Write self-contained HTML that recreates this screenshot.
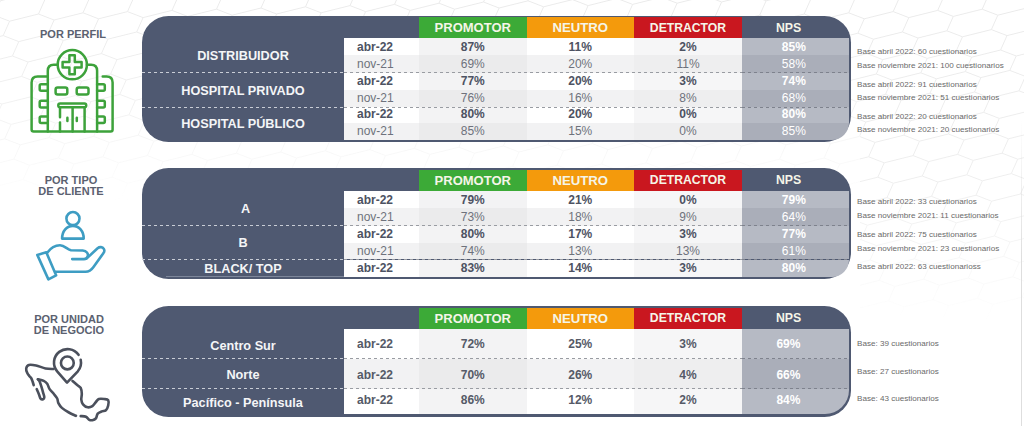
<!DOCTYPE html>
<html><head><meta charset="utf-8">
<style>
*{margin:0;padding:0;box-sizing:border-box}
html,body{width:1024px;height:426px;overflow:hidden;background:#fff;font-family:"Liberation Sans",sans-serif}
#wrap{position:relative;width:1024px;height:426px}
.tb{position:absolute;background:#4f5971;border-radius:26.5px}
.hc{position:absolute;color:#f5f5e8;font-weight:bold;font-size:13px;text-align:center}
.bc{position:absolute}
.tx{position:absolute;font-size:12px;line-height:12px;white-space:nowrap}
.c{text-align:center}
.b{font-weight:bold;color:#4d5262}
.r{font-weight:normal;color:#6e727c}
.m{font-weight:bold;color:#555a67}
.w{color:#fff}
.gl{position:absolute;color:#f4f5f7;font-weight:bold;font-size:12.7px;text-align:center;white-space:nowrap}
.dd{position:absolute;height:1px;background:repeating-linear-gradient(90deg,#c9cdd6 0 3px,transparent 3px 6px)}
.dg{position:absolute;height:1px;background:repeating-linear-gradient(90deg,#999ca2 0 3px,transparent 3px 6px)}
.dn{position:absolute;height:1px;background:repeating-linear-gradient(90deg,#7e828d 0 3px,transparent 3px 6px)}
.nt{position:absolute;left:857px;font-size:8.1px;line-height:8.1px;color:#6a6a6a;white-space:nowrap}
.ttl{position:absolute;color:#5b6170;font-weight:bold;font-size:11px;text-align:center;line-height:11.5px}
</style></head><body><div id="wrap">
<svg style="position:absolute;left:0;top:0" width="1024" height="426" viewBox="0 0 1024 426"><defs><linearGradient id="hf1" gradientUnits="userSpaceOnUse" x1="0" y1="0" x2="0" y2="200"><stop offset="0" stop-color="#fff" stop-opacity="1"/><stop offset="0.5" stop-color="#fff" stop-opacity="0.7"/><stop offset="1" stop-color="#fff" stop-opacity="0"/></linearGradient><linearGradient id="hf2" gradientUnits="userSpaceOnUse" x1="0" y1="0" x2="0" y2="320"><stop offset="0" stop-color="#fff" stop-opacity="1"/><stop offset="0.6" stop-color="#fff" stop-opacity="0.8"/><stop offset="1" stop-color="#fff" stop-opacity="0"/></linearGradient><mask id="hm"><rect x="0" y="0" width="860" height="426" fill="url(#hf1)"/><rect x="860" y="0" width="164" height="426" fill="url(#hf2)"/></mask></defs><path d="M-64.4,285.2L-58.0,270.8L-29.1,263.6L-13.5,269.6M-55.2,305.6L-48.8,291.2L-19.9,284.0L-4.3,290.0M-46.0,326.0L-39.6,311.6L-10.7,304.4L4.9,310.4M-36.8,346.4L-30.4,332.0L-1.5,324.8L14.1,330.8M-65.9,182.0L-59.5,167.6L-30.6,160.4L-15.0,166.4M-56.7,202.4L-50.3,188.0L-21.4,180.8L-5.8,186.8M-47.5,222.8L-41.1,208.4L-12.2,201.2L3.4,207.2M-38.3,243.2L-31.9,228.8L-3.0,221.6L12.6,227.6M-29.1,263.6L-22.7,249.2L6.2,242.0L21.8,248.0M-19.9,284.0L-13.5,269.6L15.4,262.4L31.0,268.4M-10.7,304.4L-4.3,290.0L24.6,282.8L40.2,288.8M-1.5,324.8L4.9,310.4L33.8,303.2L49.4,309.2M7.7,345.2L14.1,330.8L43.0,323.6L58.6,329.6M-58.2,99.2L-51.8,84.8L-22.9,77.6L-7.3,83.6M-49.0,119.6L-42.6,105.2L-13.7,98.0L1.9,104.0M-39.8,140.0L-33.4,125.6L-4.5,118.4L11.1,124.4M-30.6,160.4L-24.2,146.0L4.7,138.8L20.3,144.8M-21.4,180.8L-15.0,166.4L13.9,159.2L29.5,165.2M-12.2,201.2L-5.8,186.8L23.1,179.6L38.7,185.6M-3.0,221.6L3.4,207.2L32.3,200.0L47.9,206.0M6.2,242.0L12.6,227.6L41.5,220.4L57.1,226.4M15.4,262.4L21.8,248.0L50.7,240.8L66.3,246.8M24.6,282.8L31.0,268.4L59.9,261.2L75.5,267.2M33.8,303.2L40.2,288.8L69.1,281.6L84.7,287.6M43.0,323.6L49.4,309.2L78.3,302.0L93.9,308.0M52.2,344.0L58.6,329.6L87.5,322.4L103.1,328.4M-59.7,-4.0L-53.3,-18.4L-24.4,-25.6L-8.8,-19.6M-50.5,16.4L-44.1,2.0L-15.2,-5.2L0.4,0.8M-41.3,36.8L-34.9,22.4L-6.0,15.2L9.6,21.2M-32.1,57.2L-25.7,42.8L3.2,35.6L18.8,41.6M-22.9,77.6L-16.5,63.2L12.4,56.0L28.0,62.0M-13.7,98.0L-7.3,83.6L21.6,76.4L37.2,82.4M-4.5,118.4L1.9,104.0L30.8,96.8L46.4,102.8M4.7,138.8L11.1,124.4L40.0,117.2L55.6,123.2M13.9,159.2L20.3,144.8L49.2,137.6L64.8,143.6M23.1,179.6L29.5,165.2L58.4,158.0L74.0,164.0M32.3,200.0L38.7,185.6L67.6,178.4L83.2,184.4M41.5,220.4L47.9,206.0L76.8,198.8L92.4,204.8M50.7,240.8L57.1,226.4L86.0,219.2L101.6,225.2M59.9,261.2L66.3,246.8L95.2,239.6L110.8,245.6M69.1,281.6L75.5,267.2L104.4,260.0L120.0,266.0M78.3,302.0L84.7,287.6L113.6,280.4L129.2,286.4M87.5,322.4L93.9,308.0L122.8,300.8L138.4,306.8M96.7,342.8L103.1,328.4L132.0,321.2L147.6,327.2M-15.2,-5.2L-8.8,-19.6L20.1,-26.8L35.7,-20.8M-6.0,15.2L0.4,0.8L29.3,-6.4L44.9,-0.4M3.2,35.6L9.6,21.2L38.5,14.0L54.1,20.0M12.4,56.0L18.8,41.6L47.7,34.4L63.3,40.4M21.6,76.4L28.0,62.0L56.9,54.8L72.5,60.8M30.8,96.8L37.2,82.4L66.1,75.2L81.7,81.2M40.0,117.2L46.4,102.8L75.3,95.6L90.9,101.6M49.2,137.6L55.6,123.2L84.5,116.0L100.1,122.0M58.4,158.0L64.8,143.6L93.7,136.4L109.3,142.4M67.6,178.4L74.0,164.0L102.9,156.8L118.5,162.8M76.8,198.8L83.2,184.4L112.1,177.2L127.7,183.2M86.0,219.2L92.4,204.8L121.3,197.6L136.9,203.6M95.2,239.6L101.6,225.2L130.5,218.0L146.1,224.0M104.4,260.0L110.8,245.6L139.7,238.4L155.3,244.4M113.6,280.4L120.0,266.0L148.9,258.8L164.5,264.8M122.8,300.8L129.2,286.4L158.1,279.2L173.7,285.2M132.0,321.2L138.4,306.8L167.3,299.6L182.9,305.6M141.2,341.6L147.6,327.2L176.5,320.0L192.1,326.0M29.3,-6.4L35.7,-20.8L64.6,-28.0L80.2,-22.0M38.5,14.0L44.9,-0.4L73.8,-7.6L89.4,-1.6M47.7,34.4L54.1,20.0L83.0,12.8L98.6,18.8M56.9,54.8L63.3,40.4L92.2,33.2L107.8,39.2M66.1,75.2L72.5,60.8L101.4,53.6L117.0,59.6M75.3,95.6L81.7,81.2L110.6,74.0L126.2,80.0M84.5,116.0L90.9,101.6L119.8,94.4L135.4,100.4M93.7,136.4L100.1,122.0L129.0,114.8L144.6,120.8M102.9,156.8L109.3,142.4L138.2,135.2L153.8,141.2M112.1,177.2L118.5,162.8L147.4,155.6L163.0,161.6M121.3,197.6L127.7,183.2L156.6,176.0L172.2,182.0M130.5,218.0L136.9,203.6L165.8,196.4L181.4,202.4M139.7,238.4L146.1,224.0L175.0,216.8L190.6,222.8M148.9,258.8L155.3,244.4L184.2,237.2L199.8,243.2M158.1,279.2L164.5,264.8L193.4,257.6L209.0,263.6M167.3,299.6L173.7,285.2L202.6,278.0L218.2,284.0M176.5,320.0L182.9,305.6L211.8,298.4L227.4,304.4M185.7,340.4L192.1,326.0L221.0,318.8L236.6,324.8M194.9,360.8L201.3,346.4L230.2,339.2L245.8,345.2M73.8,-7.6L80.2,-22.0L109.1,-29.2L124.7,-23.2M83.0,12.8L89.4,-1.6L118.3,-8.8L133.9,-2.8M92.2,33.2L98.6,18.8L127.5,11.6L143.1,17.6M101.4,53.6L107.8,39.2L136.7,32.0L152.3,38.0M110.6,74.0L117.0,59.6L145.9,52.4L161.5,58.4M119.8,94.4L126.2,80.0L155.1,72.8L170.7,78.8M129.0,114.8L135.4,100.4L164.3,93.2L179.9,99.2M138.2,135.2L144.6,120.8L173.5,113.6L189.1,119.6M147.4,155.6L153.8,141.2L182.7,134.0L198.3,140.0M156.6,176.0L163.0,161.6L191.9,154.4L207.5,160.4M165.8,196.4L172.2,182.0L201.1,174.8L216.7,180.8M175.0,216.8L181.4,202.4L210.3,195.2L225.9,201.2M184.2,237.2L190.6,222.8L219.5,215.6L235.1,221.6M193.4,257.6L199.8,243.2L228.7,236.0L244.3,242.0M202.6,278.0L209.0,263.6L237.9,256.4L253.5,262.4M211.8,298.4L218.2,284.0L247.1,276.8L262.7,282.8M221.0,318.8L227.4,304.4L256.3,297.2L271.9,303.2M230.2,339.2L236.6,324.8L265.5,317.6L281.1,323.6M239.4,359.6L245.8,345.2L274.7,338.0L290.3,344.0M118.3,-8.8L124.7,-23.2L153.6,-30.4L169.2,-24.4M127.5,11.6L133.9,-2.8L162.8,-10.0L178.4,-4.0M136.7,32.0L143.1,17.6L172.0,10.4L187.6,16.4M145.9,52.4L152.3,38.0L181.2,30.8L196.8,36.8M155.1,72.8L161.5,58.4L190.4,51.2L206.0,57.2M164.3,93.2L170.7,78.8L199.6,71.6L215.2,77.6M173.5,113.6L179.9,99.2L208.8,92.0L224.4,98.0M182.7,134.0L189.1,119.6L218.0,112.4L233.6,118.4M191.9,154.4L198.3,140.0L227.2,132.8L242.8,138.8M201.1,174.8L207.5,160.4L236.4,153.2L252.0,159.2M210.3,195.2L216.7,180.8L245.6,173.6L261.2,179.6M219.5,215.6L225.9,201.2L254.8,194.0L270.4,200.0M228.7,236.0L235.1,221.6L264.0,214.4L279.6,220.4M237.9,256.4L244.3,242.0L273.2,234.8L288.8,240.8M247.1,276.8L253.5,262.4L282.4,255.2L298.0,261.2M256.3,297.2L262.7,282.8L291.6,275.6L307.2,281.6M265.5,317.6L271.9,303.2L300.8,296.0L316.4,302.0M274.7,338.0L281.1,323.6L310.0,316.4L325.6,322.4M283.9,358.4L290.3,344.0L319.2,336.8L334.8,342.8M162.8,-10.0L169.2,-24.4L198.1,-31.6L213.7,-25.6M172.0,10.4L178.4,-4.0L207.3,-11.2L222.9,-5.2M181.2,30.8L187.6,16.4L216.5,9.2L232.1,15.2M190.4,51.2L196.8,36.8L225.7,29.6L241.3,35.6M199.6,71.6L206.0,57.2L234.9,50.0L250.5,56.0M208.8,92.0L215.2,77.6L244.1,70.4L259.7,76.4M218.0,112.4L224.4,98.0L253.3,90.8L268.9,96.8M227.2,132.8L233.6,118.4L262.5,111.2L278.1,117.2M236.4,153.2L242.8,138.8L271.7,131.6L287.3,137.6M245.6,173.6L252.0,159.2L280.9,152.0L296.5,158.0M254.8,194.0L261.2,179.6L290.1,172.4L305.7,178.4M264.0,214.4L270.4,200.0L299.3,192.8L314.9,198.8M273.2,234.8L279.6,220.4L308.5,213.2L324.1,219.2M282.4,255.2L288.8,240.8L317.7,233.6L333.3,239.6M291.6,275.6L298.0,261.2L326.9,254.0L342.5,260.0M300.8,296.0L307.2,281.6L336.1,274.4L351.7,280.4M310.0,316.4L316.4,302.0L345.3,294.8L360.9,300.8M319.2,336.8L325.6,322.4L354.5,315.2L370.1,321.2M328.4,357.2L334.8,342.8L363.7,335.6L379.3,341.6M207.3,-11.2L213.7,-25.6L242.6,-32.8L258.2,-26.8M216.5,9.2L222.9,-5.2L251.8,-12.4L267.4,-6.4M225.7,29.6L232.1,15.2L261.0,8.0L276.6,14.0M234.9,50.0L241.3,35.6L270.2,28.4L285.8,34.4M244.1,70.4L250.5,56.0L279.4,48.8L295.0,54.8M253.3,90.8L259.7,76.4L288.6,69.2L304.2,75.2M262.5,111.2L268.9,96.8L297.8,89.6L313.4,95.6M271.7,131.6L278.1,117.2L307.0,110.0L322.6,116.0M280.9,152.0L287.3,137.6L316.2,130.4L331.8,136.4M290.1,172.4L296.5,158.0L325.4,150.8L341.0,156.8M299.3,192.8L305.7,178.4L334.6,171.2L350.2,177.2M308.5,213.2L314.9,198.8L343.8,191.6L359.4,197.6M317.7,233.6L324.1,219.2L353.0,212.0L368.6,218.0M326.9,254.0L333.3,239.6L362.2,232.4L377.8,238.4M336.1,274.4L342.5,260.0L371.4,252.8L387.0,258.8M345.3,294.8L351.7,280.4L380.6,273.2L396.2,279.2M354.5,315.2L360.9,300.8L389.8,293.6L405.4,299.6M363.7,335.6L370.1,321.2L399.0,314.0L414.6,320.0M372.9,356.0L379.3,341.6L408.2,334.4L423.8,340.4M251.8,-12.4L258.2,-26.8L287.1,-34.0L302.7,-28.0M261.0,8.0L267.4,-6.4L296.3,-13.6L311.9,-7.6M270.2,28.4L276.6,14.0L305.5,6.8L321.1,12.8M279.4,48.8L285.8,34.4L314.7,27.2L330.3,33.2M288.6,69.2L295.0,54.8L323.9,47.6L339.5,53.6M297.8,89.6L304.2,75.2L333.1,68.0L348.7,74.0M307.0,110.0L313.4,95.6L342.3,88.4L357.9,94.4M316.2,130.4L322.6,116.0L351.5,108.8L367.1,114.8M325.4,150.8L331.8,136.4L360.7,129.2L376.3,135.2M334.6,171.2L341.0,156.8L369.9,149.6L385.5,155.6M343.8,191.6L350.2,177.2L379.1,170.0L394.7,176.0M353.0,212.0L359.4,197.6L388.3,190.4L403.9,196.4M362.2,232.4L368.6,218.0L397.5,210.8L413.1,216.8M371.4,252.8L377.8,238.4L406.7,231.2L422.3,237.2M380.6,273.2L387.0,258.8L415.9,251.6L431.5,257.6M389.8,293.6L396.2,279.2L425.1,272.0L440.7,278.0M399.0,314.0L405.4,299.6L434.3,292.4L449.9,298.4M408.2,334.4L414.6,320.0L443.5,312.8L459.1,318.8M417.4,354.8L423.8,340.4L452.7,333.2L468.3,339.2M296.3,-13.6L302.7,-28.0L331.6,-35.2L347.2,-29.2M305.5,6.8L311.9,-7.6L340.8,-14.8L356.4,-8.8M314.7,27.2L321.1,12.8L350.0,5.6L365.6,11.6M323.9,47.6L330.3,33.2L359.2,26.0L374.8,32.0M333.1,68.0L339.5,53.6L368.4,46.4L384.0,52.4M342.3,88.4L348.7,74.0L377.6,66.8L393.2,72.8M351.5,108.8L357.9,94.4L386.8,87.2L402.4,93.2M360.7,129.2L367.1,114.8L396.0,107.6L411.6,113.6M369.9,149.6L376.3,135.2L405.2,128.0L420.8,134.0M379.1,170.0L385.5,155.6L414.4,148.4L430.0,154.4M388.3,190.4L394.7,176.0L423.6,168.8L439.2,174.8M397.5,210.8L403.9,196.4L432.8,189.2L448.4,195.2M406.7,231.2L413.1,216.8L442.0,209.6L457.6,215.6M415.9,251.6L422.3,237.2L451.2,230.0L466.8,236.0M425.1,272.0L431.5,257.6L460.4,250.4L476.0,256.4M434.3,292.4L440.7,278.0L469.6,270.8L485.2,276.8M443.5,312.8L449.9,298.4L478.8,291.2L494.4,297.2M452.7,333.2L459.1,318.8L488.0,311.6L503.6,317.6M461.9,353.6L468.3,339.2L497.2,332.0L512.8,338.0M340.8,-14.8L347.2,-29.2L376.1,-36.4L391.7,-30.4M350.0,5.6L356.4,-8.8L385.3,-16.0L400.9,-10.0M359.2,26.0L365.6,11.6L394.5,4.4L410.1,10.4M368.4,46.4L374.8,32.0L403.7,24.8L419.3,30.8M377.6,66.8L384.0,52.4L412.9,45.2L428.5,51.2M386.8,87.2L393.2,72.8L422.1,65.6L437.7,71.6M396.0,107.6L402.4,93.2L431.3,86.0L446.9,92.0M405.2,128.0L411.6,113.6L440.5,106.4L456.1,112.4M414.4,148.4L420.8,134.0L449.7,126.8L465.3,132.8M423.6,168.8L430.0,154.4L458.9,147.2L474.5,153.2M432.8,189.2L439.2,174.8L468.1,167.6L483.7,173.6M442.0,209.6L448.4,195.2L477.3,188.0L492.9,194.0M451.2,230.0L457.6,215.6L486.5,208.4L502.1,214.4M460.4,250.4L466.8,236.0L495.7,228.8L511.3,234.8M469.6,270.8L476.0,256.4L504.9,249.2L520.5,255.2M478.8,291.2L485.2,276.8L514.1,269.6L529.7,275.6M488.0,311.6L494.4,297.2L523.3,290.0L538.9,296.0M497.2,332.0L503.6,317.6L532.5,310.4L548.1,316.4M506.4,352.4L512.8,338.0L541.7,330.8L557.3,336.8M385.3,-16.0L391.7,-30.4L420.6,-37.6L436.2,-31.6M394.5,4.4L400.9,-10.0L429.8,-17.2L445.4,-11.2M403.7,24.8L410.1,10.4L439.0,3.2L454.6,9.2M412.9,45.2L419.3,30.8L448.2,23.6L463.8,29.6M422.1,65.6L428.5,51.2L457.4,44.0L473.0,50.0M431.3,86.0L437.7,71.6L466.6,64.4L482.2,70.4M440.5,106.4L446.9,92.0L475.8,84.8L491.4,90.8M449.7,126.8L456.1,112.4L485.0,105.2L500.6,111.2M458.9,147.2L465.3,132.8L494.2,125.6L509.8,131.6M468.1,167.6L474.5,153.2L503.4,146.0L519.0,152.0M477.3,188.0L483.7,173.6L512.6,166.4L528.2,172.4M486.5,208.4L492.9,194.0L521.8,186.8L537.4,192.8M495.7,228.8L502.1,214.4L531.0,207.2L546.6,213.2M504.9,249.2L511.3,234.8L540.2,227.6L555.8,233.6M514.1,269.6L520.5,255.2L549.4,248.0L565.0,254.0M523.3,290.0L529.7,275.6L558.6,268.4L574.2,274.4M532.5,310.4L538.9,296.0L567.8,288.8L583.4,294.8M541.7,330.8L548.1,316.4L577.0,309.2L592.6,315.2M550.9,351.2L557.3,336.8L586.2,329.6L601.8,335.6M429.8,-17.2L436.2,-31.6L465.1,-38.8L480.7,-32.8M439.0,3.2L445.4,-11.2L474.3,-18.4L489.9,-12.4M448.2,23.6L454.6,9.2L483.5,2.0L499.1,8.0M457.4,44.0L463.8,29.6L492.7,22.4L508.3,28.4M466.6,64.4L473.0,50.0L501.9,42.8L517.5,48.8M475.8,84.8L482.2,70.4L511.1,63.2L526.7,69.2M485.0,105.2L491.4,90.8L520.3,83.6L535.9,89.6M494.2,125.6L500.6,111.2L529.5,104.0L545.1,110.0M503.4,146.0L509.8,131.6L538.7,124.4L554.3,130.4M512.6,166.4L519.0,152.0L547.9,144.8L563.5,150.8M521.8,186.8L528.2,172.4L557.1,165.2L572.7,171.2M531.0,207.2L537.4,192.8L566.3,185.6L581.9,191.6M540.2,227.6L546.6,213.2L575.5,206.0L591.1,212.0M549.4,248.0L555.8,233.6L584.7,226.4L600.3,232.4M558.6,268.4L565.0,254.0L593.9,246.8L609.5,252.8M567.8,288.8L574.2,274.4L603.1,267.2L618.7,273.2M577.0,309.2L583.4,294.8L612.3,287.6L627.9,293.6M586.2,329.6L592.6,315.2L621.5,308.0L637.1,314.0M595.4,350.0L601.8,335.6L630.7,328.4L646.3,334.4M474.3,-18.4L480.7,-32.8L509.6,-40.0L525.2,-34.0M483.5,2.0L489.9,-12.4L518.8,-19.6L534.4,-13.6M492.7,22.4L499.1,8.0L528.0,0.8L543.6,6.8M501.9,42.8L508.3,28.4L537.2,21.2L552.8,27.2M511.1,63.2L517.5,48.8L546.4,41.6L562.0,47.6M520.3,83.6L526.7,69.2L555.6,62.0L571.2,68.0M529.5,104.0L535.9,89.6L564.8,82.4L580.4,88.4M538.7,124.4L545.1,110.0L574.0,102.8L589.6,108.8M547.9,144.8L554.3,130.4L583.2,123.2L598.8,129.2M557.1,165.2L563.5,150.8L592.4,143.6L608.0,149.6M566.3,185.6L572.7,171.2L601.6,164.0L617.2,170.0M575.5,206.0L581.9,191.6L610.8,184.4L626.4,190.4M584.7,226.4L591.1,212.0L620.0,204.8L635.6,210.8M593.9,246.8L600.3,232.4L629.2,225.2L644.8,231.2M603.1,267.2L609.5,252.8L638.4,245.6L654.0,251.6M612.3,287.6L618.7,273.2L647.6,266.0L663.2,272.0M621.5,308.0L627.9,293.6L656.8,286.4L672.4,292.4M630.7,328.4L637.1,314.0L666.0,306.8L681.6,312.8M639.9,348.8L646.3,334.4L675.2,327.2L690.8,333.2M528.0,0.8L534.4,-13.6L563.3,-20.8L578.9,-14.8M537.2,21.2L543.6,6.8L572.5,-0.4L588.1,5.6M546.4,41.6L552.8,27.2L581.7,20.0L597.3,26.0M555.6,62.0L562.0,47.6L590.9,40.4L606.5,46.4M564.8,82.4L571.2,68.0L600.1,60.8L615.7,66.8M574.0,102.8L580.4,88.4L609.3,81.2L624.9,87.2M583.2,123.2L589.6,108.8L618.5,101.6L634.1,107.6M592.4,143.6L598.8,129.2L627.7,122.0L643.3,128.0M601.6,164.0L608.0,149.6L636.9,142.4L652.5,148.4M610.8,184.4L617.2,170.0L646.1,162.8L661.7,168.8M620.0,204.8L626.4,190.4L655.3,183.2L670.9,189.2M629.2,225.2L635.6,210.8L664.5,203.6L680.1,209.6M638.4,245.6L644.8,231.2L673.7,224.0L689.3,230.0M647.6,266.0L654.0,251.6L682.9,244.4L698.5,250.4M656.8,286.4L663.2,272.0L692.1,264.8L707.7,270.8M666.0,306.8L672.4,292.4L701.3,285.2L716.9,291.2M675.2,327.2L681.6,312.8L710.5,305.6L726.1,311.6M684.4,347.6L690.8,333.2L719.7,326.0L735.3,332.0M572.5,-0.4L578.9,-14.8L607.8,-22.0L623.4,-16.0M581.7,20.0L588.1,5.6L617.0,-1.6L632.6,4.4M590.9,40.4L597.3,26.0L626.2,18.8L641.8,24.8M600.1,60.8L606.5,46.4L635.4,39.2L651.0,45.2M609.3,81.2L615.7,66.8L644.6,59.6L660.2,65.6M618.5,101.6L624.9,87.2L653.8,80.0L669.4,86.0M627.7,122.0L634.1,107.6L663.0,100.4L678.6,106.4M636.9,142.4L643.3,128.0L672.2,120.8L687.8,126.8M646.1,162.8L652.5,148.4L681.4,141.2L697.0,147.2M655.3,183.2L661.7,168.8L690.6,161.6L706.2,167.6M664.5,203.6L670.9,189.2L699.8,182.0L715.4,188.0M673.7,224.0L680.1,209.6L709.0,202.4L724.6,208.4M682.9,244.4L689.3,230.0L718.2,222.8L733.8,228.8M692.1,264.8L698.5,250.4L727.4,243.2L743.0,249.2M701.3,285.2L707.7,270.8L736.6,263.6L752.2,269.6M710.5,305.6L716.9,291.2L745.8,284.0L761.4,290.0M719.7,326.0L726.1,311.6L755.0,304.4L770.6,310.4M728.9,346.4L735.3,332.0L764.2,324.8L779.8,330.8M617.0,-1.6L623.4,-16.0L652.3,-23.2L667.9,-17.2M626.2,18.8L632.6,4.4L661.5,-2.8L677.1,3.2M635.4,39.2L641.8,24.8L670.7,17.6L686.3,23.6M644.6,59.6L651.0,45.2L679.9,38.0L695.5,44.0M653.8,80.0L660.2,65.6L689.1,58.4L704.7,64.4M663.0,100.4L669.4,86.0L698.3,78.8L713.9,84.8M672.2,120.8L678.6,106.4L707.5,99.2L723.1,105.2M681.4,141.2L687.8,126.8L716.7,119.6L732.3,125.6M690.6,161.6L697.0,147.2L725.9,140.0L741.5,146.0M699.8,182.0L706.2,167.6L735.1,160.4L750.7,166.4M709.0,202.4L715.4,188.0L744.3,180.8L759.9,186.8M718.2,222.8L724.6,208.4L753.5,201.2L769.1,207.2M727.4,243.2L733.8,228.8L762.7,221.6L778.3,227.6M736.6,263.6L743.0,249.2L771.9,242.0L787.5,248.0M745.8,284.0L752.2,269.6L781.1,262.4L796.7,268.4M755.0,304.4L761.4,290.0L790.3,282.8L805.9,288.8M764.2,324.8L770.6,310.4L799.5,303.2L815.1,309.2M773.4,345.2L779.8,330.8L808.7,323.6L824.3,329.6M661.5,-2.8L667.9,-17.2L696.8,-24.4L712.4,-18.4M670.7,17.6L677.1,3.2L706.0,-4.0L721.6,2.0M679.9,38.0L686.3,23.6L715.2,16.4L730.8,22.4M689.1,58.4L695.5,44.0L724.4,36.8L740.0,42.8M698.3,78.8L704.7,64.4L733.6,57.2L749.2,63.2M707.5,99.2L713.9,84.8L742.8,77.6L758.4,83.6M716.7,119.6L723.1,105.2L752.0,98.0L767.6,104.0M725.9,140.0L732.3,125.6L761.2,118.4L776.8,124.4M735.1,160.4L741.5,146.0L770.4,138.8L786.0,144.8M744.3,180.8L750.7,166.4L779.6,159.2L795.2,165.2M753.5,201.2L759.9,186.8L788.8,179.6L804.4,185.6M762.7,221.6L769.1,207.2L798.0,200.0L813.6,206.0M771.9,242.0L778.3,227.6L807.2,220.4L822.8,226.4M781.1,262.4L787.5,248.0L816.4,240.8L832.0,246.8M790.3,282.8L796.7,268.4L825.6,261.2L841.2,267.2M799.5,303.2L805.9,288.8L834.8,281.6L850.4,287.6M808.7,323.6L815.1,309.2L844.0,302.0L859.6,308.0M817.9,344.0L824.3,329.6L853.2,322.4L868.8,328.4M706.0,-4.0L712.4,-18.4L741.3,-25.6L756.9,-19.6M715.2,16.4L721.6,2.0L750.5,-5.2L766.1,0.8M724.4,36.8L730.8,22.4L759.7,15.2L775.3,21.2M733.6,57.2L740.0,42.8L768.9,35.6L784.5,41.6M742.8,77.6L749.2,63.2L778.1,56.0L793.7,62.0M752.0,98.0L758.4,83.6L787.3,76.4L802.9,82.4M761.2,118.4L767.6,104.0L796.5,96.8L812.1,102.8M770.4,138.8L776.8,124.4L805.7,117.2L821.3,123.2M779.6,159.2L786.0,144.8L814.9,137.6L830.5,143.6M788.8,179.6L795.2,165.2L824.1,158.0L839.7,164.0M798.0,200.0L804.4,185.6L833.3,178.4L848.9,184.4M807.2,220.4L813.6,206.0L842.5,198.8L858.1,204.8M816.4,240.8L822.8,226.4L851.7,219.2L867.3,225.2M825.6,261.2L832.0,246.8L860.9,239.6L876.5,245.6M834.8,281.6L841.2,267.2L870.1,260.0L885.7,266.0M844.0,302.0L850.4,287.6L879.3,280.4L894.9,286.4M853.2,322.4L859.6,308.0L888.5,300.8L904.1,306.8M862.4,342.8L868.8,328.4L897.7,321.2L913.3,327.2M750.5,-5.2L756.9,-19.6L785.8,-26.8L801.4,-20.8M759.7,15.2L766.1,0.8L795.0,-6.4L810.6,-0.4M768.9,35.6L775.3,21.2L804.2,14.0L819.8,20.0M778.1,56.0L784.5,41.6L813.4,34.4L829.0,40.4M787.3,76.4L793.7,62.0L822.6,54.8L838.2,60.8M796.5,96.8L802.9,82.4L831.8,75.2L847.4,81.2M805.7,117.2L812.1,102.8L841.0,95.6L856.6,101.6M814.9,137.6L821.3,123.2L850.2,116.0L865.8,122.0M824.1,158.0L830.5,143.6L859.4,136.4L875.0,142.4M833.3,178.4L839.7,164.0L868.6,156.8L884.2,162.8M842.5,198.8L848.9,184.4L877.8,177.2L893.4,183.2M851.7,219.2L858.1,204.8L887.0,197.6L902.6,203.6M860.9,239.6L867.3,225.2L896.2,218.0L911.8,224.0M870.1,260.0L876.5,245.6L905.4,238.4L921.0,244.4M879.3,280.4L885.7,266.0L914.6,258.8L930.2,264.8M888.5,300.8L894.9,286.4L923.8,279.2L939.4,285.2M897.7,321.2L904.1,306.8L933.0,299.6L948.6,305.6M906.9,341.6L913.3,327.2L942.2,320.0L957.8,326.0M795.0,-6.4L801.4,-20.8L830.3,-28.0L845.9,-22.0M804.2,14.0L810.6,-0.4L839.5,-7.6L855.1,-1.6M813.4,34.4L819.8,20.0L848.7,12.8L864.3,18.8M822.6,54.8L829.0,40.4L857.9,33.2L873.5,39.2M831.8,75.2L838.2,60.8L867.1,53.6L882.7,59.6M841.0,95.6L847.4,81.2L876.3,74.0L891.9,80.0M850.2,116.0L856.6,101.6L885.5,94.4L901.1,100.4M859.4,136.4L865.8,122.0L894.7,114.8L910.3,120.8M868.6,156.8L875.0,142.4L903.9,135.2L919.5,141.2M877.8,177.2L884.2,162.8L913.1,155.6L928.7,161.6M887.0,197.6L893.4,183.2L922.3,176.0L937.9,182.0M896.2,218.0L902.6,203.6L931.5,196.4L947.1,202.4M905.4,238.4L911.8,224.0L940.7,216.8L956.3,222.8M914.6,258.8L921.0,244.4L949.9,237.2L965.5,243.2M923.8,279.2L930.2,264.8L959.1,257.6L974.7,263.6M933.0,299.6L939.4,285.2L968.3,278.0L983.9,284.0M942.2,320.0L948.6,305.6L977.5,298.4L993.1,304.4M951.4,340.4L957.8,326.0L986.7,318.8L1002.3,324.8M960.6,360.8L967.0,346.4L995.9,339.2L1011.5,345.2M839.5,-7.6L845.9,-22.0L874.8,-29.2L890.4,-23.2M848.7,12.8L855.1,-1.6L884.0,-8.8L899.6,-2.8M857.9,33.2L864.3,18.8L893.2,11.6L908.8,17.6M867.1,53.6L873.5,39.2L902.4,32.0L918.0,38.0M876.3,74.0L882.7,59.6L911.6,52.4L927.2,58.4M885.5,94.4L891.9,80.0L920.8,72.8L936.4,78.8M894.7,114.8L901.1,100.4L930.0,93.2L945.6,99.2M903.9,135.2L910.3,120.8L939.2,113.6L954.8,119.6M913.1,155.6L919.5,141.2L948.4,134.0L964.0,140.0M922.3,176.0L928.7,161.6L957.6,154.4L973.2,160.4M931.5,196.4L937.9,182.0L966.8,174.8L982.4,180.8M940.7,216.8L947.1,202.4L976.0,195.2L991.6,201.2M949.9,237.2L956.3,222.8L985.2,215.6L1000.8,221.6M959.1,257.6L965.5,243.2L994.4,236.0L1010.0,242.0M968.3,278.0L974.7,263.6L1003.6,256.4L1019.2,262.4M977.5,298.4L983.9,284.0L1012.8,276.8L1028.4,282.8M986.7,318.8L993.1,304.4L1022.0,297.2L1037.6,303.2M995.9,339.2L1002.3,324.8L1031.2,317.6L1046.8,323.6M1005.1,359.6L1011.5,345.2L1040.4,338.0L1056.0,344.0M884.0,-8.8L890.4,-23.2L919.3,-30.4L934.9,-24.4M893.2,11.6L899.6,-2.8L928.5,-10.0L944.1,-4.0M902.4,32.0L908.8,17.6L937.7,10.4L953.3,16.4M911.6,52.4L918.0,38.0L946.9,30.8L962.5,36.8M920.8,72.8L927.2,58.4L956.1,51.2L971.7,57.2M930.0,93.2L936.4,78.8L965.3,71.6L980.9,77.6M939.2,113.6L945.6,99.2L974.5,92.0L990.1,98.0M948.4,134.0L954.8,119.6L983.7,112.4L999.3,118.4M957.6,154.4L964.0,140.0L992.9,132.8L1008.5,138.8M966.8,174.8L973.2,160.4L1002.1,153.2L1017.7,159.2M976.0,195.2L982.4,180.8L1011.3,173.6L1026.9,179.6M985.2,215.6L991.6,201.2L1020.5,194.0L1036.1,200.0M994.4,236.0L1000.8,221.6L1029.7,214.4L1045.3,220.4M1003.6,256.4L1010.0,242.0L1038.9,234.8L1054.5,240.8M1012.8,276.8L1019.2,262.4L1048.1,255.2L1063.7,261.2M1022.0,297.2L1028.4,282.8L1057.3,275.6L1072.9,281.6M1031.2,317.6L1037.6,303.2L1066.5,296.0L1082.1,302.0M1040.4,338.0L1046.8,323.6L1075.7,316.4L1091.3,322.4M1049.6,358.4L1056.0,344.0L1084.9,336.8L1100.5,342.8M928.5,-10.0L934.9,-24.4L963.8,-31.6L979.4,-25.6M937.7,10.4L944.1,-4.0L973.0,-11.2L988.6,-5.2M946.9,30.8L953.3,16.4L982.2,9.2L997.8,15.2M956.1,51.2L962.5,36.8L991.4,29.6L1007.0,35.6M965.3,71.6L971.7,57.2L1000.6,50.0L1016.2,56.0M974.5,92.0L980.9,77.6L1009.8,70.4L1025.4,76.4M983.7,112.4L990.1,98.0L1019.0,90.8L1034.6,96.8M992.9,132.8L999.3,118.4L1028.2,111.2L1043.8,117.2M1002.1,153.2L1008.5,138.8L1037.4,131.6L1053.0,137.6M1011.3,173.6L1017.7,159.2L1046.6,152.0L1062.2,158.0M1020.5,194.0L1026.9,179.6L1055.8,172.4L1071.4,178.4M1029.7,214.4L1036.1,200.0L1065.0,192.8L1080.6,198.8M1038.9,234.8L1045.3,220.4L1074.2,213.2L1089.8,219.2M1048.1,255.2L1054.5,240.8L1083.4,233.6L1099.0,239.6M1057.3,275.6L1063.7,261.2L1092.6,254.0L1108.2,260.0M1066.5,296.0L1072.9,281.6L1101.8,274.4L1117.4,280.4M1075.7,316.4L1082.1,302.0L1111.0,294.8L1126.6,300.8M973.0,-11.2L979.4,-25.6L1008.3,-32.8L1023.9,-26.8M982.2,9.2L988.6,-5.2L1017.5,-12.4L1033.1,-6.4M991.4,29.6L997.8,15.2L1026.7,8.0L1042.3,14.0M1000.6,50.0L1007.0,35.6L1035.9,28.4L1051.5,34.4M1009.8,70.4L1016.2,56.0L1045.1,48.8L1060.7,54.8M1019.0,90.8L1025.4,76.4L1054.3,69.2L1069.9,75.2M1028.2,111.2L1034.6,96.8L1063.5,89.6L1079.1,95.6M1037.4,131.6L1043.8,117.2L1072.7,110.0L1088.3,116.0M1046.6,152.0L1053.0,137.6L1081.9,130.4L1097.5,136.4M1055.8,172.4L1062.2,158.0L1091.1,150.8L1106.7,156.8M1065.0,192.8L1071.4,178.4L1100.3,171.2L1115.9,177.2M1074.2,213.2L1080.6,198.8L1109.5,191.6L1125.1,197.6M1083.4,233.6L1089.8,219.2L1118.7,212.0L1134.3,218.0M1017.5,-12.4L1023.9,-26.8L1052.8,-34.0L1068.4,-28.0M1026.7,8.0L1033.1,-6.4L1062.0,-13.6L1077.6,-7.6M1035.9,28.4L1042.3,14.0L1071.2,6.8L1086.8,12.8M1045.1,48.8L1051.5,34.4L1080.4,27.2L1096.0,33.2M1054.3,69.2L1060.7,54.8L1089.6,47.6L1105.2,53.6M1063.5,89.6L1069.9,75.2L1098.8,68.0L1114.4,74.0M1072.7,110.0L1079.1,95.6L1108.0,88.4L1123.6,94.4M1081.9,130.4L1088.3,116.0L1117.2,108.8L1132.8,114.8M1062.0,-13.6L1068.4,-28.0L1097.3,-35.2L1112.9,-29.2M1071.2,6.8L1077.6,-7.6L1106.5,-14.8L1122.1,-8.8M1080.4,27.2L1086.8,12.8L1115.7,5.6L1131.3,11.6" fill="none" stroke="#ebebeb" stroke-width="1" mask="url(#hm)"/></svg>
<div class="ttl" style="left:22px;top:29px;width:102px">POR PERFIL</div>
<div class="ttl" style="left:20px;top:174.5px;width:102px">POR TIPO<br>DE CLIENTE</div>
<div class="ttl" style="left:18px;top:313.5px;width:102px">POR UNIDAD<br>DE NEGOCIO</div>
<svg style="position:absolute;left:0;top:0" width="1024" height="426" viewBox="0 0 1024 426"><g fill="none" stroke="#3da23b" stroke-width="2.5" stroke-linecap="round"><circle cx="72.3" cy="64.7" r="14.6"/><path d="M69.39999999999999,55.2 H74.8 V62.0 H81.6 V67.4 H74.8 V74.2 H69.39999999999999 V67.4 H62.599999999999994 V62.0 H69.39999999999999 Z" stroke-linejoin="round"/><path d="M47.8,131.5 V70.8 Q47.8,64.8 53.8,64.8 H57.7"/><path d="M86.9,64.8 H91.1 Q97.1,64.8 97.1,70.8 V131.5"/><path d="M47.8,76.4 H37.6 Q31.6,76.4 31.6,82.4 V129.5 Q31.6,131.5 33.6,131.5 H110.6 Q112.6,131.5 112.6,129.5 V82.4 Q112.6,76.4 106.6,76.4 H102.7"/><path d="M47.8,84.2 H41.2 Q39.7,84.2 39.7,85.7 V89.2 Q39.7,90.7 41.2,90.7 H47.8"/><path d="M97.1,84.2 H103.3 Q104.8,84.2 104.8,85.7 V89.2 Q104.8,90.7 103.3,90.7 H97.1"/><path d="M47.8,100.7 H41.2 Q39.7,100.7 39.7,102.2 V106.0 Q39.7,107.5 41.2,107.5 H47.8"/><path d="M97.1,100.7 H103.3 Q104.8,100.7 104.8,102.2 V106.0 Q104.8,107.5 103.3,107.5 H97.1"/><path d="M47.8,116.6 H41.2 Q39.7,116.6 39.7,118.1 V121.6 Q39.7,123.1 41.2,123.1 H47.8"/><path d="M97.1,116.6 H103.3 Q104.8,116.6 104.8,118.1 V121.6 Q104.8,123.1 103.3,123.1 H97.1"/><rect x="55.6" y="87.4" width="11.699999999999996" height="7" rx="2"/><rect x="76.7" y="87.4" width="11.799999999999997" height="7" rx="2"/><rect x="58.3" y="103.4" width="27.9" height="3.9" rx="1.8"/><path d="M60,107.3 V117.2 M60,122.6 V131.5 M72.6,107.3 V131.5 M84.6,107.3 V131.5"/><path d="M67.4,117.8 V120.9 M76.8,117.8 V120.9"/></g><g fill="none" stroke="#3e9dc3" stroke-width="2.6" stroke-linecap="round"><circle cx="72.95" cy="218.6" r="6.55"/><path d="M62.1,238.6 C62.1,231 66.8,225.9 72.9,225.9 C79,225.9 83.7,231 83.7,238.6 Z" stroke-linejoin="round"/><path d="M37.3,254.9 L46.3,252.3 L56.1,275.3 L48.4,279.4 Z" stroke-linejoin="round"/><path d="M47.4,252.6 C51,247.5 55.5,245.3 60,245.3 C64.5,245.3 67.5,249.5 71,250.3 L82.7,250.5 C86.5,250.8 88.6,253.5 87.7,256.4 C87,258.5 85.5,259.1 84,259.1 L72.2,259.1" stroke-linejoin="round"/><path d="M86.5,258.6 L97.6,248.3 C99.6,246.6 102.6,246.8 103.8,248.8 C104.8,250.5 104.2,252.2 103.2,253.4 L93.5,266.9 C91.5,269.8 89,271.7 85.5,271.7 L55.4,271.7" stroke-linejoin="round"/></g><g fill="none" stroke="#4b505c" stroke-width="2.6" stroke-linecap="round"><path d="M80.70,359.79 A13.5,13.5 0 0 1 77.84,371.28 L67.0,382.6 L57.16,371.28 A13.5,13.5 0 1 1 78.56,354.86" stroke-linejoin="round"/><circle cx="67.35" cy="362.95" r="6.4"/><path d="M53.50,369.00 C52.17,368.90 48.40,368.98 45.50,368.40 C42.60,367.82 38.85,366.08 36.10,365.50 C33.35,364.92 30.65,364.42 29.00,364.90 C27.35,365.38 26.48,367.03 26.20,368.40 C25.92,369.77 26.75,371.80 27.30,373.10 C27.85,374.40 28.82,375.30 29.50,376.20 C30.18,377.10 30.88,377.62 31.40,378.50 C31.92,379.38 32.22,380.38 32.60,381.50 C32.98,382.62 33.52,384.58 33.70,385.20"/><path d="M36.70,389.10 C37.08,389.98 38.35,392.82 39.00,394.40 C39.65,395.98 39.92,397.80 40.60,398.60 C41.28,399.40 42.48,399.42 43.10,399.20 C43.72,398.98 44.30,398.40 44.30,397.30 C44.30,396.20 43.58,394.37 43.10,392.60 C42.62,390.83 41.98,388.55 41.40,386.70 C40.82,384.85 40.18,382.73 39.60,381.50 C39.02,380.27 38.18,379.67 37.90,379.30"/><path d="M37.90,379.30 C38.87,379.57 42.15,380.15 43.70,380.90 C45.25,381.65 46.22,382.43 47.20,383.80 C48.18,385.17 48.52,387.43 49.60,389.10 C50.68,390.77 52.43,392.23 53.70,393.80 C54.97,395.37 56.42,396.93 57.20,398.50 C57.98,400.07 57.62,401.63 58.40,403.20 C59.18,404.77 60.15,406.35 61.90,407.90 C63.65,409.45 66.55,411.18 68.90,412.50 C71.25,413.82 74.82,415.25 76.00,415.80"/><path d="M72.50,380.90 C73.28,381.58 75.83,383.83 77.20,385.00 C78.57,386.17 79.93,386.43 80.70,387.90 C81.47,389.37 81.70,391.85 81.80,393.80 C81.90,395.75 81.10,397.85 81.30,399.60 C81.50,401.35 81.93,403.02 83.00,404.30 C84.07,405.58 86.13,407.00 87.70,407.30 C89.27,407.60 91.03,406.98 92.40,406.10 C93.77,405.22 94.82,403.18 95.90,402.00 C96.98,400.82 97.53,399.50 98.90,399.00 C100.27,398.50 102.55,398.80 104.10,399.00 C105.65,399.20 107.52,399.12 108.20,400.20 C108.88,401.28 108.58,403.83 108.20,405.50 C107.82,407.17 106.97,409.22 105.90,410.20 C104.83,411.18 103.17,410.82 101.80,411.40 C100.43,411.98 98.68,412.53 97.70,413.70 C96.72,414.87 96.78,417.32 95.90,418.40 C95.02,419.48 93.57,420.00 92.40,420.20 C91.23,420.40 89.97,420.18 88.90,419.60 C87.83,419.02 87.37,417.28 86.00,416.70 C84.63,416.12 81.58,416.20 80.70,416.10"/></g></svg>
<div class="tb" style="left:142px;top:15.5px;width:709px;height:126.0px"></div>
<div class="hc" style="left:419px;top:17px;width:107.5px;height:21px;line-height:21px;background:#3caa37;font-size:13px;padding-top:0px">PROMOTOR</div>
<div class="hc" style="left:526.5px;top:17px;width:107.5px;height:21px;line-height:21px;background:#f49a0c;font-size:13.2px;padding-top:0px">NEUTRO</div>
<div class="hc" style="left:634px;top:17px;width:108px;height:21px;line-height:21px;background:#c9171f;font-size:12.2px;padding-top:0.8px">DETRACTOR</div>
<div class="hc" style="left:748.6px;top:17px;width:80px;height:21px;line-height:21px;font-size:12.3px;padding-top:0.8px">NPS</div>
<div class="bc" style="left:344px;top:38px;width:75px;height:17px;background:#ffffff"></div>
<div class="tx b" style="left:357px;top:40.64px">abr-22</div>
<div class="bc" style="left:419px;top:38px;width:107.5px;height:17px;background:#f3f3f4;"></div>
<div class="tx c b" style="left:419px;top:40.64px;width:107.5px">87%</div>
<div class="bc" style="left:526.5px;top:38px;width:107.5px;height:17px;background:#ffffff;"></div>
<div class="tx c b" style="left:526.5px;top:40.64px;width:107.5px">11%</div>
<div class="bc" style="left:634px;top:38px;width:108px;height:17px;background:#f6f6f7;"></div>
<div class="tx c b" style="left:634px;top:40.64px;width:108px">2%</div>
<div class="bc" style="left:742px;top:38px;width:106.5px;height:17px;background:#b6bac4;"></div>
<div class="tx c b w" style="left:740.6px;top:40.64px;width:106.5px">85%</div>
<div class="bc" style="left:344px;top:55px;width:75px;height:17.799999999999997px;background:#f2f2f3"></div>
<div class="tx r" style="left:357px;top:57.60px">nov-21</div>
<div class="bc" style="left:419px;top:55px;width:107.5px;height:17.799999999999997px;background:#ebebec;"></div>
<div class="tx c r" style="left:419px;top:57.60px;width:107.5px">69%</div>
<div class="bc" style="left:526.5px;top:55px;width:107.5px;height:17.799999999999997px;background:#f2f2f3;"></div>
<div class="tx c r" style="left:526.5px;top:57.60px;width:107.5px">20%</div>
<div class="bc" style="left:634px;top:55px;width:108px;height:17.799999999999997px;background:#eeeeef;"></div>
<div class="tx c r" style="left:634px;top:57.60px;width:108px">11%</div>
<div class="bc" style="left:742px;top:55px;width:106.5px;height:17.799999999999997px;background:#aaaeb9;"></div>
<div class="tx c r w" style="left:740.6px;top:57.60px;width:106.5px">58%</div>
<div class="bc" style="left:344px;top:72.8px;width:75px;height:17.200000000000003px;background:#ffffff"></div>
<div class="tx b" style="left:357px;top:74.56px">abr-22</div>
<div class="bc" style="left:419px;top:72.8px;width:107.5px;height:17.200000000000003px;background:#f3f3f4;"></div>
<div class="tx c b" style="left:419px;top:74.56px;width:107.5px">77%</div>
<div class="bc" style="left:526.5px;top:72.8px;width:107.5px;height:17.200000000000003px;background:#ffffff;"></div>
<div class="tx c b" style="left:526.5px;top:74.56px;width:107.5px">20%</div>
<div class="bc" style="left:634px;top:72.8px;width:108px;height:17.200000000000003px;background:#f6f6f7;"></div>
<div class="tx c b" style="left:634px;top:74.56px;width:108px">3%</div>
<div class="bc" style="left:742px;top:72.8px;width:106.5px;height:17.200000000000003px;background:#b6bac4;"></div>
<div class="tx c b w" style="left:740.6px;top:74.56px;width:106.5px">74%</div>
<div class="bc" style="left:344px;top:90px;width:75px;height:17px;background:#f2f2f3"></div>
<div class="tx r" style="left:357px;top:91.52px">nov-21</div>
<div class="bc" style="left:419px;top:90px;width:107.5px;height:17px;background:#ebebec;"></div>
<div class="tx c r" style="left:419px;top:91.52px;width:107.5px">76%</div>
<div class="bc" style="left:526.5px;top:90px;width:107.5px;height:17px;background:#f2f2f3;"></div>
<div class="tx c r" style="left:526.5px;top:91.52px;width:107.5px">16%</div>
<div class="bc" style="left:634px;top:90px;width:108px;height:17px;background:#eeeeef;"></div>
<div class="tx c r" style="left:634px;top:91.52px;width:108px">8%</div>
<div class="bc" style="left:742px;top:90px;width:106.5px;height:17px;background:#aaaeb9;"></div>
<div class="tx c r w" style="left:740.6px;top:91.52px;width:106.5px">68%</div>
<div class="bc" style="left:344px;top:107px;width:75px;height:16.299999999999997px;background:#ffffff"></div>
<div class="tx b" style="left:357px;top:108.48px">abr-22</div>
<div class="bc" style="left:419px;top:107px;width:107.5px;height:16.299999999999997px;background:#f3f3f4;"></div>
<div class="tx c b" style="left:419px;top:108.48px;width:107.5px">80%</div>
<div class="bc" style="left:526.5px;top:107px;width:107.5px;height:16.299999999999997px;background:#ffffff;"></div>
<div class="tx c b" style="left:526.5px;top:108.48px;width:107.5px">20%</div>
<div class="bc" style="left:634px;top:107px;width:108px;height:16.299999999999997px;background:#f6f6f7;"></div>
<div class="tx c b" style="left:634px;top:108.48px;width:108px">0%</div>
<div class="bc" style="left:742px;top:107px;width:106.5px;height:16.299999999999997px;background:#b6bac4;"></div>
<div class="tx c b w" style="left:740.6px;top:108.48px;width:106.5px">80%</div>
<div class="bc" style="left:344px;top:123.3px;width:75px;height:16.299999999999997px;background:#f2f2f3"></div>
<div class="tx r" style="left:357px;top:125.44px">nov-21</div>
<div class="bc" style="left:419px;top:123.3px;width:107.5px;height:16.299999999999997px;background:#ebebec;"></div>
<div class="tx c r" style="left:419px;top:125.44px;width:107.5px">85%</div>
<div class="bc" style="left:526.5px;top:123.3px;width:107.5px;height:16.299999999999997px;background:#f2f2f3;"></div>
<div class="tx c r" style="left:526.5px;top:125.44px;width:107.5px">15%</div>
<div class="bc" style="left:634px;top:123.3px;width:108px;height:16.299999999999997px;background:#eeeeef;"></div>
<div class="tx c r" style="left:634px;top:125.44px;width:108px">0%</div>
<div class="bc" style="left:742px;top:123.3px;width:106.5px;height:16.299999999999997px;background:#aaaeb9;border-bottom-right-radius:24px;"></div>
<div class="tx c r w" style="left:740.6px;top:125.44px;width:106.5px">85%</div>
<div class="gl" style="left:142px;top:39.0px;width:202px;height:34.8px;line-height:34.8px">DISTRIBUIDOR</div>
<div class="gl" style="left:142px;top:73.8px;width:202px;height:34.2px;line-height:34.2px">HOSPITAL PRIVADO</div>
<div class="gl" style="left:142px;top:108.0px;width:202px;height:32.599999999999994px;line-height:32.599999999999994px">HOSPITAL PÚBLICO</div>
<div class="dd" style="left:142px;top:72.3px;width:202px"></div>
<div class="dg" style="left:344px;top:72.3px;width:398px"></div>
<div class="dn" style="left:742px;top:72.3px;width:106.5px"></div>
<div class="dd" style="left:142px;top:106.5px;width:202px"></div>
<div class="dg" style="left:344px;top:106.5px;width:398px"></div>
<div class="dn" style="left:742px;top:106.5px;width:106.5px"></div>
<div class="nt" style="top:48.04px">Base abril 2022: 60 cuestionarios</div>
<div class="nt" style="top:62.04px">Base noviembre 2021: 100 cuestionarios</div>
<div class="nt" style="top:80.64px">Base abril 2022: 91 cuestionarios</div>
<div class="nt" style="top:93.94px">Base noviembre 2021: 51 cuestionarios</div>
<div class="nt" style="top:112.69px">Base abril 2022: 20 cuestionarios</div>
<div class="nt" style="top:126.44px">Base noviembre 2021: 20 cuestionarios</div>
<div class="tb" style="left:142px;top:167.5px;width:709px;height:111.0px"></div>
<div class="hc" style="left:419px;top:169.5px;width:107.5px;height:21.80000000000001px;line-height:21.80000000000001px;background:#3caa37;font-size:13px;padding-top:0px">PROMOTOR</div>
<div class="hc" style="left:526.5px;top:169.5px;width:107.5px;height:21.80000000000001px;line-height:21.80000000000001px;background:#f49a0c;font-size:13.2px;padding-top:0px">NEUTRO</div>
<div class="hc" style="left:634px;top:169.5px;width:108px;height:21.80000000000001px;line-height:21.80000000000001px;background:#c9171f;font-size:12.2px;padding-top:0.8px">DETRACTOR</div>
<div class="hc" style="left:748.6px;top:169.5px;width:80px;height:21.80000000000001px;line-height:21.80000000000001px;font-size:12.3px;padding-top:0.8px">NPS</div>
<div class="bc" style="left:344px;top:191.3px;width:75px;height:16.899999999999977px;background:#ffffff"></div>
<div class="tx b" style="left:357px;top:193.54px">abr-22</div>
<div class="bc" style="left:419px;top:191.3px;width:107.5px;height:16.899999999999977px;background:#f3f3f4;"></div>
<div class="tx c b" style="left:419px;top:193.54px;width:107.5px">79%</div>
<div class="bc" style="left:526.5px;top:191.3px;width:107.5px;height:16.899999999999977px;background:#ffffff;"></div>
<div class="tx c b" style="left:526.5px;top:193.54px;width:107.5px">21%</div>
<div class="bc" style="left:634px;top:191.3px;width:108px;height:16.899999999999977px;background:#f6f6f7;"></div>
<div class="tx c b" style="left:634px;top:193.54px;width:108px">0%</div>
<div class="bc" style="left:742px;top:191.3px;width:106.5px;height:16.899999999999977px;background:#b6bac4;"></div>
<div class="tx c b w" style="left:740.6px;top:193.54px;width:106.5px">79%</div>
<div class="bc" style="left:344px;top:208.2px;width:75px;height:17.600000000000023px;background:#f2f2f3"></div>
<div class="tx r" style="left:357px;top:210.54px">nov-21</div>
<div class="bc" style="left:419px;top:208.2px;width:107.5px;height:17.600000000000023px;background:#ebebec;"></div>
<div class="tx c r" style="left:419px;top:210.54px;width:107.5px">73%</div>
<div class="bc" style="left:526.5px;top:208.2px;width:107.5px;height:17.600000000000023px;background:#f2f2f3;"></div>
<div class="tx c r" style="left:526.5px;top:210.54px;width:107.5px">18%</div>
<div class="bc" style="left:634px;top:208.2px;width:108px;height:17.600000000000023px;background:#eeeeef;"></div>
<div class="tx c r" style="left:634px;top:210.54px;width:108px">9%</div>
<div class="bc" style="left:742px;top:208.2px;width:106.5px;height:17.600000000000023px;background:#aaaeb9;"></div>
<div class="tx c r w" style="left:740.6px;top:210.54px;width:106.5px">64%</div>
<div class="bc" style="left:344px;top:225.8px;width:75px;height:16.899999999999977px;background:#ffffff"></div>
<div class="tx b" style="left:357px;top:227.54px">abr-22</div>
<div class="bc" style="left:419px;top:225.8px;width:107.5px;height:16.899999999999977px;background:#f3f3f4;"></div>
<div class="tx c b" style="left:419px;top:227.54px;width:107.5px">80%</div>
<div class="bc" style="left:526.5px;top:225.8px;width:107.5px;height:16.899999999999977px;background:#ffffff;"></div>
<div class="tx c b" style="left:526.5px;top:227.54px;width:107.5px">17%</div>
<div class="bc" style="left:634px;top:225.8px;width:108px;height:16.899999999999977px;background:#f6f6f7;"></div>
<div class="tx c b" style="left:634px;top:227.54px;width:108px">3%</div>
<div class="bc" style="left:742px;top:225.8px;width:106.5px;height:16.899999999999977px;background:#b6bac4;"></div>
<div class="tx c b w" style="left:740.6px;top:227.54px;width:106.5px">77%</div>
<div class="bc" style="left:344px;top:242.7px;width:75px;height:16.80000000000001px;background:#f2f2f3"></div>
<div class="tx r" style="left:357px;top:244.54px">nov-21</div>
<div class="bc" style="left:419px;top:242.7px;width:107.5px;height:16.80000000000001px;background:#ebebec;"></div>
<div class="tx c r" style="left:419px;top:244.54px;width:107.5px">74%</div>
<div class="bc" style="left:526.5px;top:242.7px;width:107.5px;height:16.80000000000001px;background:#f2f2f3;"></div>
<div class="tx c r" style="left:526.5px;top:244.54px;width:107.5px">13%</div>
<div class="bc" style="left:634px;top:242.7px;width:108px;height:16.80000000000001px;background:#eeeeef;"></div>
<div class="tx c r" style="left:634px;top:244.54px;width:108px">13%</div>
<div class="bc" style="left:742px;top:242.7px;width:106.5px;height:16.80000000000001px;background:#aaaeb9;"></div>
<div class="tx c r w" style="left:740.6px;top:244.54px;width:106.5px">61%</div>
<div class="bc" style="left:344px;top:259.5px;width:75px;height:17.0px;background:#ffffff"></div>
<div class="tx b" style="left:357px;top:261.54px">abr-22</div>
<div class="bc" style="left:419px;top:259.5px;width:107.5px;height:17.0px;background:#f3f3f4;"></div>
<div class="tx c b" style="left:419px;top:261.54px;width:107.5px">83%</div>
<div class="bc" style="left:526.5px;top:259.5px;width:107.5px;height:17.0px;background:#ffffff;"></div>
<div class="tx c b" style="left:526.5px;top:261.54px;width:107.5px">14%</div>
<div class="bc" style="left:634px;top:259.5px;width:108px;height:17.0px;background:#f6f6f7;"></div>
<div class="tx c b" style="left:634px;top:261.54px;width:108px">3%</div>
<div class="bc" style="left:742px;top:259.5px;width:106.5px;height:17.0px;background:#b6bac4;border-bottom-right-radius:24px;"></div>
<div class="tx c b w" style="left:740.6px;top:261.54px;width:106.5px">80%</div>
<div class="gl" style="left:144.5px;top:192.3px;width:202px;height:34.5px;line-height:34.5px">A</div>
<div class="gl" style="left:142px;top:226.8px;width:202px;height:33.69999999999999px;line-height:33.69999999999999px">B</div>
<div class="gl" style="left:142px;top:260.5px;width:202px;height:17.0px;line-height:17.0px">BLACK/ TOP</div>
<div class="dd" style="left:142px;top:225.3px;width:202px"></div>
<div class="dg" style="left:344px;top:225.3px;width:398px"></div>
<div class="dn" style="left:742px;top:225.3px;width:106.5px"></div>
<div class="dd" style="left:142px;top:259.0px;width:202px"></div>
<div class="dg" style="left:344px;top:259.0px;width:398px"></div>
<div class="dn" style="left:742px;top:259.0px;width:106.5px"></div>
<div class="nt" style="top:197.94px">Base abril 2022: 33 cuestionarios</div>
<div class="nt" style="top:212.24px">Base noviembre 2021: 11 cuestionarios</div>
<div class="nt" style="top:230.84px">Base abril 2022: 75 cuestionarios</div>
<div class="nt" style="top:244.74px">Base noviembre 2021: 23 cuestionarios</div>
<div class="nt" style="top:263.14px">Base abril 2022: 63 cuestionarioss</div>
<div class="tb" style="left:142px;top:305.5px;width:709px;height:111.0px"></div>
<div class="hc" style="left:419px;top:307.6px;width:107.5px;height:21.19999999999999px;line-height:21.19999999999999px;background:#3caa37;font-size:13px;padding-top:0px">PROMOTOR</div>
<div class="hc" style="left:526.5px;top:307.6px;width:107.5px;height:21.19999999999999px;line-height:21.19999999999999px;background:#f49a0c;font-size:13.2px;padding-top:0px">NEUTRO</div>
<div class="hc" style="left:634px;top:307.6px;width:108px;height:21.19999999999999px;line-height:21.19999999999999px;background:#c9171f;font-size:12.2px;padding-top:0.8px">DETRACTOR</div>
<div class="hc" style="left:748.6px;top:307.6px;width:80px;height:21.19999999999999px;line-height:21.19999999999999px;font-size:12.3px;padding-top:0.8px">NPS</div>
<div class="bc" style="left:344px;top:328.8px;width:75px;height:30.19999999999999px;background:#ffffff"></div>
<div class="tx m" style="left:357px;top:337.94px">abr-22</div>
<div class="bc" style="left:419px;top:328.8px;width:107.5px;height:30.19999999999999px;background:#f3f3f4;"></div>
<div class="tx c m" style="left:419px;top:337.94px;width:107.5px">72%</div>
<div class="bc" style="left:526.5px;top:328.8px;width:107.5px;height:30.19999999999999px;background:#ffffff;"></div>
<div class="tx c m" style="left:526.5px;top:337.94px;width:107.5px">25%</div>
<div class="bc" style="left:634px;top:328.8px;width:108px;height:30.19999999999999px;background:#f6f6f7;"></div>
<div class="tx c m" style="left:634px;top:337.94px;width:108px">3%</div>
<div class="bc" style="left:742px;top:328.8px;width:106.5px;height:30.19999999999999px;background:#b6bac4;"></div>
<div class="tx c m w" style="left:735.2px;top:337.94px;width:106.5px">69%</div>
<div class="bc" style="left:344px;top:359px;width:75px;height:30px;background:#f2f2f3"></div>
<div class="tx m" style="left:357px;top:369.04px">abr-22</div>
<div class="bc" style="left:419px;top:359px;width:107.5px;height:30px;background:#ebebec;"></div>
<div class="tx c m" style="left:419px;top:369.04px;width:107.5px">70%</div>
<div class="bc" style="left:526.5px;top:359px;width:107.5px;height:30px;background:#f2f2f3;"></div>
<div class="tx c m" style="left:526.5px;top:369.04px;width:107.5px">26%</div>
<div class="bc" style="left:634px;top:359px;width:108px;height:30px;background:#eeeeef;"></div>
<div class="tx c m" style="left:634px;top:369.04px;width:108px">4%</div>
<div class="bc" style="left:742px;top:359px;width:106.5px;height:30px;background:#aaaeb9;"></div>
<div class="tx c m w" style="left:735.2px;top:369.04px;width:106.5px">66%</div>
<div class="bc" style="left:344px;top:389px;width:75px;height:25.19999999999999px;background:#ffffff"></div>
<div class="tx m" style="left:357px;top:394.24px">abr-22</div>
<div class="bc" style="left:419px;top:389px;width:107.5px;height:25.19999999999999px;background:#f3f3f4;"></div>
<div class="tx c m" style="left:419px;top:394.24px;width:107.5px">86%</div>
<div class="bc" style="left:526.5px;top:389px;width:107.5px;height:25.19999999999999px;background:#ffffff;"></div>
<div class="tx c m" style="left:526.5px;top:394.24px;width:107.5px">12%</div>
<div class="bc" style="left:634px;top:389px;width:108px;height:25.19999999999999px;background:#f6f6f7;"></div>
<div class="tx c m" style="left:634px;top:394.24px;width:108px">2%</div>
<div class="bc" style="left:742px;top:389px;width:106.5px;height:25.19999999999999px;background:#b6bac4;border-bottom-right-radius:24px;"></div>
<div class="tx c m w" style="left:735.2px;top:394.24px;width:106.5px">84%</div>
<div class="gl" style="left:142px;top:330.8px;width:202px;height:30.19999999999999px;line-height:30.19999999999999px">Centro Sur</div>
<div class="gl" style="left:142px;top:360.3px;width:202px;height:30px;line-height:30px">Norte</div>
<div class="gl" style="left:142px;top:391.0px;width:202px;height:25.19999999999999px;line-height:25.19999999999999px">Pacífico - Península</div>
<div class="dd" style="left:142px;top:358.1px;width:202px"></div>
<div class="dg" style="left:344px;top:358.1px;width:398px"></div>
<div class="dn" style="left:742px;top:358.1px;width:106.5px"></div>
<div class="dd" style="left:142px;top:388.3px;width:202px"></div>
<div class="dg" style="left:344px;top:388.3px;width:398px"></div>
<div class="dn" style="left:742px;top:388.3px;width:106.5px"></div>
<div class="nt" style="top:339.94px">Base: 39 cuestionarios</div>
<div class="nt" style="top:368.24px">Base: 27 cuestionarios</div>
<div class="nt" style="top:395.34px">Base: 43 cuestionarios</div>
<div style="position:absolute;left:1021px;top:120px;width:1.2px;height:306px;background:linear-gradient(180deg,rgba(222,222,222,0),#dedede 140px)"></div>
<div style="position:absolute;left:166px;top:275.6px;width:178px;height:0.8px;background:#7d869a"></div>
</div></body></html>
